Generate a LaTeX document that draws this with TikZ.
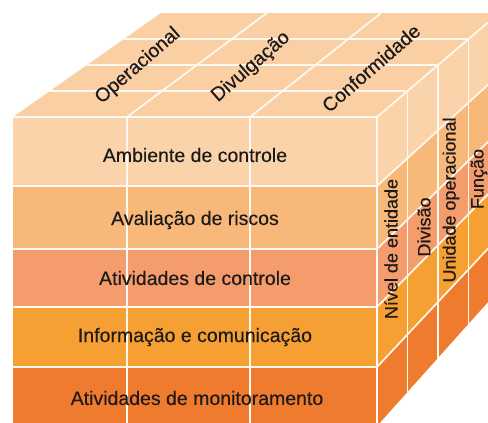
\documentclass[tikz,border=0pt]{standalone}
\usepackage{fontspec}
\setmainfont{Liberation Sans}[FakeBold=0.25]
\usetikzlibrary{calc}
\definecolor{topc}{HTML}{F9CFA3}
\definecolor{rowa}{HTML}{FBD3AB}
\definecolor{rowb}{HTML}{F8B87A}
\definecolor{rowc}{HTML}{F49C6C}
\definecolor{rowd}{HTML}{F6A034}
\definecolor{rowe}{HTML}{EF7B2E}
\definecolor{txt}{HTML}{1E1A1A}
\definecolor{gline}{HTML}{FFF9F0}
\begin{document}
\begin{tikzpicture}[x=1pt,y=-1pt,
  gridline/.style={draw=gline,line width=1.7pt},
  lab/.style={font=\fontsize{19.5}{22}\selectfont,text=txt,inner sep=0pt},
  sidelab/.style={font=\fontsize{18}{20}\selectfont,text=txt,inner sep=0pt,rotate=90}]
\useasboundingbox (0,0) rectangle (488,423);
\clip (0,0) rectangle (488,423);
\coordinate (VT) at (2085,-1339);
\coordinate (VR) at (1544,-877.5);
\foreach \i/\x in {1/13,2/127,3/250,4/377}{
  \foreach \d in {0,...,4}{
    \coordinate (T-\i-\d) at ($(\x,117)!\d*0.01786!(VT)$);
  }
}
\foreach \r/\y in {1/117,2/186,3/249,4/307,5/367,6/426}{
  \foreach \d in {0,...,4}{
    \coordinate (R-\r-\d) at ($(377,\y)!\d*0.02614!(VR)$);
  }
}
% top face
\fill[topc] (T-1-0) -- (T-4-0) -- (T-4-4) -- (T-1-4) -- cycle;
% front rows
\foreach \ya/\yb/\c in {117/186/rowa,186/249/rowb,249/307/rowc,307/367/rowd,367/426/rowe}{
  \fill[\c] (13,\ya) rectangle (377,\yb);
}
% right bands
\foreach \r/\s/\c in {1/2/rowa,2/3/rowb,3/4/rowc,4/5/rowd,5/6/rowe}{
  \fill[\c] (R-\r-0) -- (R-\r-4) -- (R-\s-4) -- (R-\s-0) -- cycle;
}
% grid lines: top face
\foreach \d in {0,1,2,3}{
  \draw[gridline] (T-1-\d) -- (T-4-\d);
}
\foreach \i in {2,3,4}{
  \draw[gridline] (T-\i-0) -- (T-\i-4);
}
% grid lines: right face
\foreach \d in {1,2,3}{
  \draw[gridline] (R-1-\d) -- (R-6-\d);
}
\foreach \r in {2,...,5}{
  \draw[gridline] (R-\r-0) -- (R-\r-4);
}
% grid lines: front face
\foreach \x in {127,250,377}{
  \draw[gridline] (\x,117) -- (\x,426);
}
\foreach \y in {186,249,307,367}{
  \draw[gridline] (13,\y) -- (377,\y);
}
% front labels
\node[lab] (amb) at (195,155) {Ambiente de controle};
\node[lab] (ava) at (195,220) {Avaliação de riscos};
\node[lab] (atc) at (195,278) {Atividades de controle};
\node[lab] (inf) at (195,337) {Informação e comunicação};
\node[lab] (mon) at (197,398) {Atividades de monitoramento};
% top labels
\node[lab,rotate=41] (ope) at (138,66) {Operacional};
\node[lab,rotate=41] (div) at (251,67) {Divulgação};
\node[lab,rotate=41] (con) at (371,68) {Conformidade};
% right labels
\node[sidelab] (niv) at (391,249) {Nível de entidade};
\node[sidelab] (dvs) at (424,227) {Divisão};
\node[sidelab] (uni) at (451,200) {Unidade operacional};
\node[sidelab] (fun) at (479,179) {Função};
\end{tikzpicture}
\end{document}
